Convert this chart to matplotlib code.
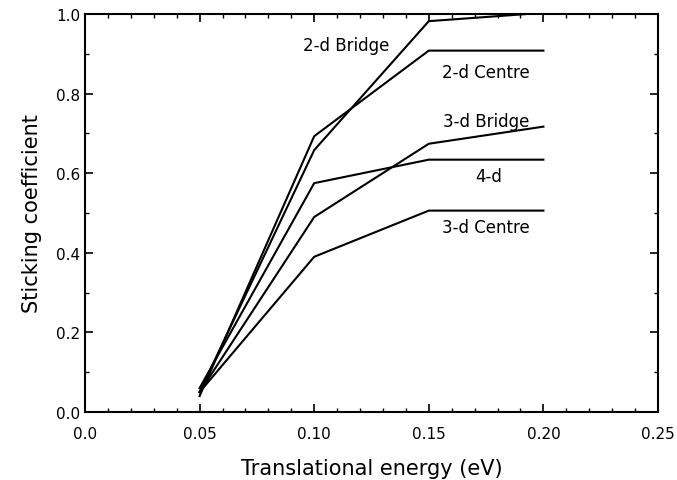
import numpy as np
import matplotlib.pyplot as plt
from matplotlib.ticker import MultipleLocator

# translational energies (eV) and sticking coefficients
energy = [0.05, 0.10, 0.15, 0.20]
bridge_2d = [0.05, 0.658, 0.982, 1.003]
centre_2d = [0.04, 0.693, 0.908, 0.908]
bridge_3d = [0.05, 0.49, 0.674, 0.717]
four_d = [0.06, 0.575, 0.634, 0.634]
centre_3d = [0.05, 0.39, 0.506, 0.506]

labels = ["2-d Bridge", "2-d Centre", "3-d Bridge", "4-d", "3-d Centre"]
label_x = [0.114, 0.175, 0.175, 0.176, 0.175]
label_y = [0.922, 0.854, 0.731, 0.593, 0.465]

fig = plt.figure(figsize=(6.77, 4.81), dpi=100)
ax = fig.add_axes([85 / 677, 1 - 413 / 481, 573 / 677, 398 / 481])

for s in [bridge_2d, centre_2d, bridge_3d, four_d, centre_3d]:
  ax.plot(energy, s, color="black", lw=1.5)

for t, x, y in zip(labels, label_x, label_y):
  ax.text(x, y, t, ha="center", va="center", fontsize=12)

ax.set_xlim(0, 0.25)
ax.set_ylim(0, 1.0)
ax.xaxis.set_minor_locator(MultipleLocator(0.01))
ax.yaxis.set_minor_locator(MultipleLocator(0.1))
ax.set_xticks(np.arange(0, 0.26, 0.05))
ax.set_xticklabels(["0.0", "0.05", "0.10", "0.15", "0.20", "0.25"])
ax.set_yticks(np.arange(0, 1.01, 0.2))
ax.set_yticklabels(["0.0", "0.2", "0.4", "0.6", "0.8", "1.0"])
ax.tick_params(which="both", direction="in", top=True, right=True, labelsize=11)
ax.tick_params(which="major", length=6, width=1.2)
ax.tick_params(which="minor", length=3, width=1)
ax.tick_params(axis="x", pad=10)
for sp in ax.spines.values():
  sp.set_linewidth(1.5)

ax.set_xlabel("Translational energy (eV)", fontsize=15, labelpad=12)
ax.set_ylabel("Sticking coefficient", fontsize=15, labelpad=10)

fig.savefig("out.png", dpi=100)
